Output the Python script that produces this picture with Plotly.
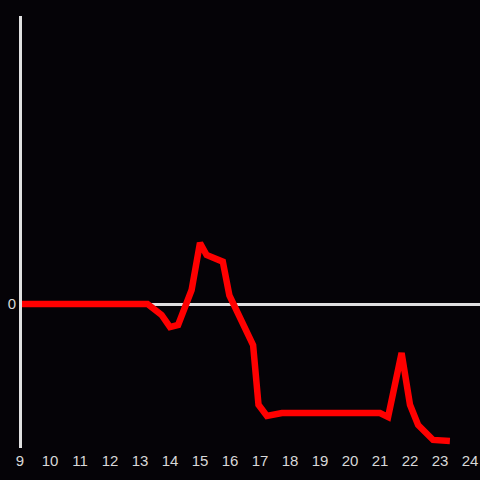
import plotly.graph_objects as go

hours = [9.0, 13.25, 13.72, 14.0, 14.27, 14.72, 15.0, 15.22, 15.76, 15.98, 16.77,
         16.95, 17.23, 17.73, 21.0, 21.27, 21.72, 22.0, 22.27, 22.77, 23.33]
values = [0.0, 0.0, -0.76, -1.6, -1.46, 0.97, 4.24, 3.4, 2.94, 0.6, -2.85,
          -7.0, -7.78, -7.57, -7.57, -7.85, -3.4, -7.0, -8.4, -9.44, -9.51]
x_ticks = list(range(9, 25))
y_ticks = [0]

bg = "#050307"
axis_col = "#e0e0e0"

fig = go.Figure(go.Scatter(
    x=hours, y=values, mode="lines",
    line=dict(color="#ff0000", width=6.5),
    hoverinfo="skip",
))

fig.update_layout(
    width=480, height=480,
    paper_bgcolor=bg, plot_bgcolor=bg,
    margin=dict(l=20, r=0, t=16, b=32),
    showlegend=False,
    font=dict(family="Liberation Sans, Arial, sans-serif", size=15, color="#d8d8d8"),
    xaxis=dict(
        range=[9, 9 + 460 / 30], tickvals=x_ticks, ticktext=[str(t) for t in x_ticks],
        showgrid=False, zeroline=False, showline=False, ticks="", automargin=False,
        ticklabelstandoff=2,
    ),
    yaxis=dict(
        range=[-10, 20], tickvals=y_ticks, ticktext=["0"],
        showgrid=False, zeroline=True, zerolinecolor=axis_col, zerolinewidth=3,
        showline=False, ticks="", automargin=False, ticklabelstandoff=3,
    ),
    shapes=[dict(
        type="line", xref="paper", yref="paper", x0=0.5 / 460, x1=0.5 / 460, y0=0, y1=1,
        line=dict(color=axis_col, width=3), layer="above",
    )],
)

fig.write_html("out.html", config={"displayModeBar": False})

with open("out.html", "r", encoding="utf-8") as f:
    html = f.read()
html = html.replace("<head>", "<head><style>html,body{margin:0;padding:0;background:#050307;overflow:hidden}</style>", 1)
with open("out.html", "w", encoding="utf-8") as f:
    f.write(html)
